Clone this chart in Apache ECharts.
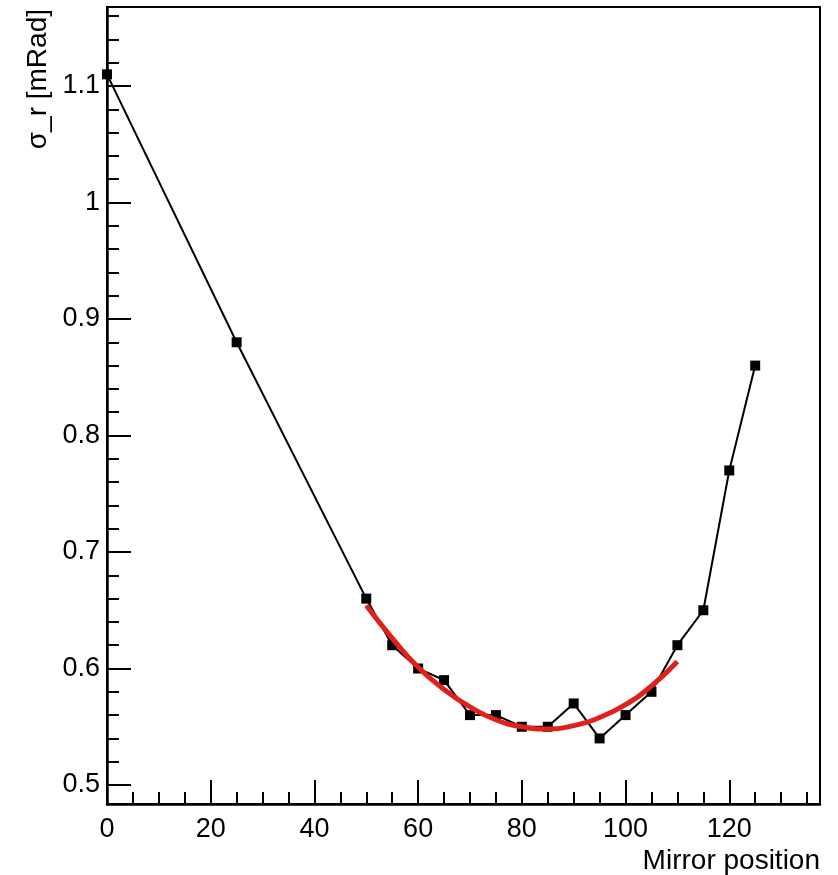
<!DOCTYPE html>
<html>
<head>
<meta charset="utf-8">
<script src="https://cdn.jsdelivr.net/npm/echarts@6/dist/echarts.min.js"></script>
<style>
  html, body { margin: 0; padding: 0; background: #fff; }
  #chart-container { width: 838px; height: 875px; }
</style>
</head>
<body>
<div id="chart-container"></div>
<script>
var dom = document.getElementById("chart-container");
var myChart = echarts.init(dom, null, { renderer: "canvas" });

// measured points
var positions = [0, 25, 50, 55, 60, 65, 70, 75, 80, 85, 90, 95, 100, 105, 110, 115, 120, 125];
var sigmaR = [1.11, 0.88, 0.66, 0.62, 0.60, 0.59, 0.56, 0.56, 0.55, 0.55, 0.57, 0.54, 0.56, 0.58, 0.62, 0.65, 0.77, 0.86];

// red fit curve
var fitX = [50, 55, 60, 65, 70, 75, 80, 85, 90, 95, 100, 105, 110];
var fitY = [0.654, 0.626, 0.601, 0.582, 0.567, 0.556, 0.550, 0.548, 0.551, 0.558, 0.569, 0.585, 0.606];

// ticks
var xMajor = [0, 20, 40, 60, 80, 100, 120];
var xMinor = [5, 10, 15, 25, 30, 35, 45, 50, 55, 65, 70, 75, 85, 90, 95, 105, 110, 115, 125, 130, 135];
var yMajor = [0.5, 0.6, 0.7, 0.8, 0.9, 1, 1.1];
var yMinor = [0.52, 0.54, 0.56, 0.58, 0.62, 0.64, 0.66, 0.68, 0.72, 0.74, 0.76, 0.78,
  0.82, 0.84, 0.86, 0.88, 0.92, 0.94, 0.96, 0.98, 1.02, 1.04, 1.06, 1.08, 1.12, 1.14, 1.16];

var font = "Liberation Sans";

function pairs(xs, ys) {
  return xs.map(function (x, i) { return [x, ys[i]]; });
}

function xAxisDef(ticks, len, labels) {
  return {
    type: "value",
    position: "bottom",
    min: 0,
    max: 137.5,
    axisLine: { show: labels, lineStyle: { color: "#000", width: 2.5 } },
    axisTick: { inside: true, length: len, customValues: ticks, lineStyle: { color: "#000", width: 2 } },
    axisLabel: labels
      ? { customValues: ticks, color: "#000", fontSize: 27, fontFamily: font, margin: 12 }
      : { show: false },
    splitLine: { show: false },
  };
}

function yAxisDef(ticks, len, labels) {
  return {
    type: "value",
    position: "left",
    min: 0.4837,
    max: 1.1678,
    axisLine: { show: labels, lineStyle: { color: "#000", width: 2.5 } },
    axisTick: { inside: true, length: len, customValues: ticks, lineStyle: { color: "#000", width: 2 } },
    axisLabel: labels
      ? { customValues: ticks, color: "#000", fontSize: 27, fontFamily: font, margin: 7 }
      : { show: false },
    splitLine: { show: false },
  };
}

var option = {
  animation: false,
  backgroundColor: "#fff",
  grid: {
    left: 107,
    right: 18,
    top: 7,
    bottom: 71,
    show: true,
    borderColor: "#000",
    borderWidth: 2,
  },
  xAxis: [xAxisDef(xMajor, 24, true), xAxisDef(xMinor, 12, false)],
  yAxis: [yAxisDef(yMajor, 24, true), yAxisDef(yMinor, 12, false)],
  graphic: [
    {
      type: "text",
      x: 820,
      y: 861,
      style: {
        text: "Mirror position",
        font: "28px " + font,
        fill: "#000",
        textAlign: "right",
        textVerticalAlign: "middle",
      },
    },
    {
      type: "text",
      x: 38,
      y: 9,
      rotation: Math.PI / 2,
      style: {
        text: "σ_r [mRad]",
        font: "28px " + font,
        fill: "#000",
        textAlign: "right",
        textVerticalAlign: "middle",
      },
    },
  ],
  series: [
    {
      type: "line",
      xAxisIndex: 0,
      yAxisIndex: 0,
      data: pairs(positions, sigmaR),
      symbol: "rect",
      symbolSize: 10,
      showAllSymbol: true,
      itemStyle: { color: "#000" },
      lineStyle: { color: "#000", width: 2 },
      z: 3,
    },
    {
      type: "line",
      xAxisIndex: 0,
      yAxisIndex: 0,
      data: pairs(fitX, fitY),
      smooth: true,
      showSymbol: false,
      lineStyle: { color: "#e0211b", width: 5 },
      z: 4,
    },
  ],
};

myChart.setOption(option);

window.addEventListener("resize", function () {
  myChart.resize();
});
</script>
</body>
</html>
